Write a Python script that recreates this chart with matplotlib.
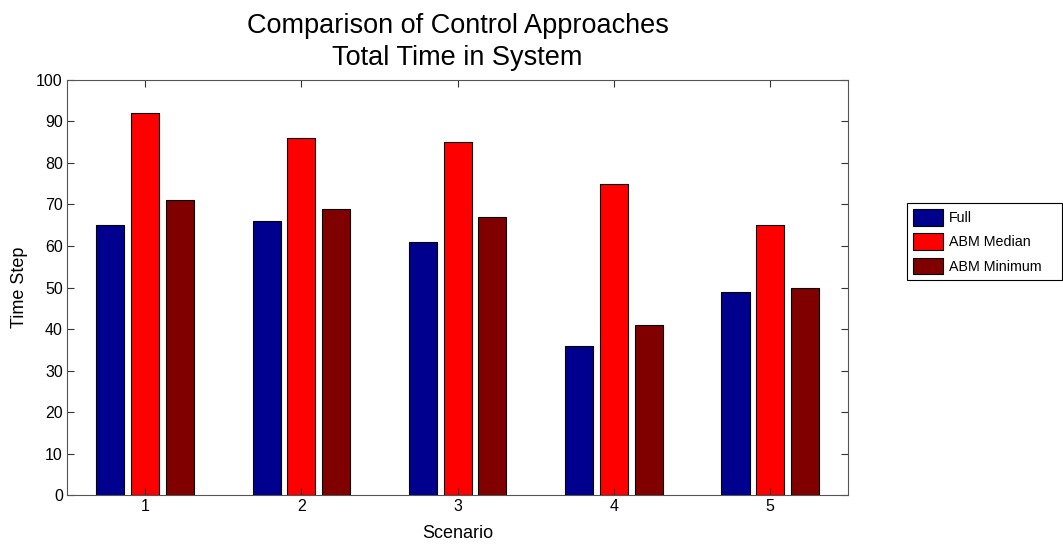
import matplotlib
matplotlib.use("Agg")
import matplotlib.pyplot as plt
import numpy as np

scenarios = [1, 2, 3, 4, 5]
series_names = ["Full", "ABM Median", "ABM Minimum"]
full = [65, 66, 61, 36, 49]
abm_median = [92, 86, 85, 75, 65]
abm_minimum = [71, 69, 67, 41, 50]
colors = ["#00008F", "#FF0000", "#800000"]

plt.rcParams['font.family'] = ['Liberation Sans', 'DejaVu Sans']
fig = plt.figure(figsize=(10.63, 5.44), dpi=100)
ax = fig.add_axes([0.063, 0.090, 0.735, 0.763])

x = np.array(scenarios, dtype=float)
width = 0.18
offsets = [-0.222, 0.0, 0.222]
for vals, off, c, name in zip([full, abm_median, abm_minimum], offsets, colors, series_names):
    ax.bar(x + off, vals, width, color=c, edgecolor='black', linewidth=0.8, label=name)

ax.set_xlim(0.5, 5.5)
ax.set_ylim(0, 100)
ax.set_yticks(np.arange(0, 101, 10))
ax.set_xticks(scenarios)
ax.tick_params(direction='in', top=True, right=True, labelsize=11.5, length=5, width=0.8,
               colors='#333333', labelcolor='black', pad=3)
for s in ax.spines.values():
    s.set_color('#555555')
    s.set_linewidth(0.8)

ax.set_xlabel("Scenario", fontsize=13, labelpad=8)
ax.set_ylabel("Time Step", fontsize=13, labelpad=6)
ax.set_title("Comparison of Control Approaches\nTotal Time in System", fontsize=19.5, pad=11, linespacing=1.3)

leg = fig.legend(loc='upper left', bbox_to_anchor=(907/1063, 1 - 203/544, 155/1063, 0.0),
                 mode='expand', fontsize=10.3,
                 fancybox=False, edgecolor='black', framealpha=1,
                 handlelength=2.1, handleheight=1.4, handletextpad=0.4,
                 labelspacing=0.55, borderpad=0.42, borderaxespad=0)
leg.get_frame().set_linewidth(0.8)

fig.savefig("out.png", dpi=100)
